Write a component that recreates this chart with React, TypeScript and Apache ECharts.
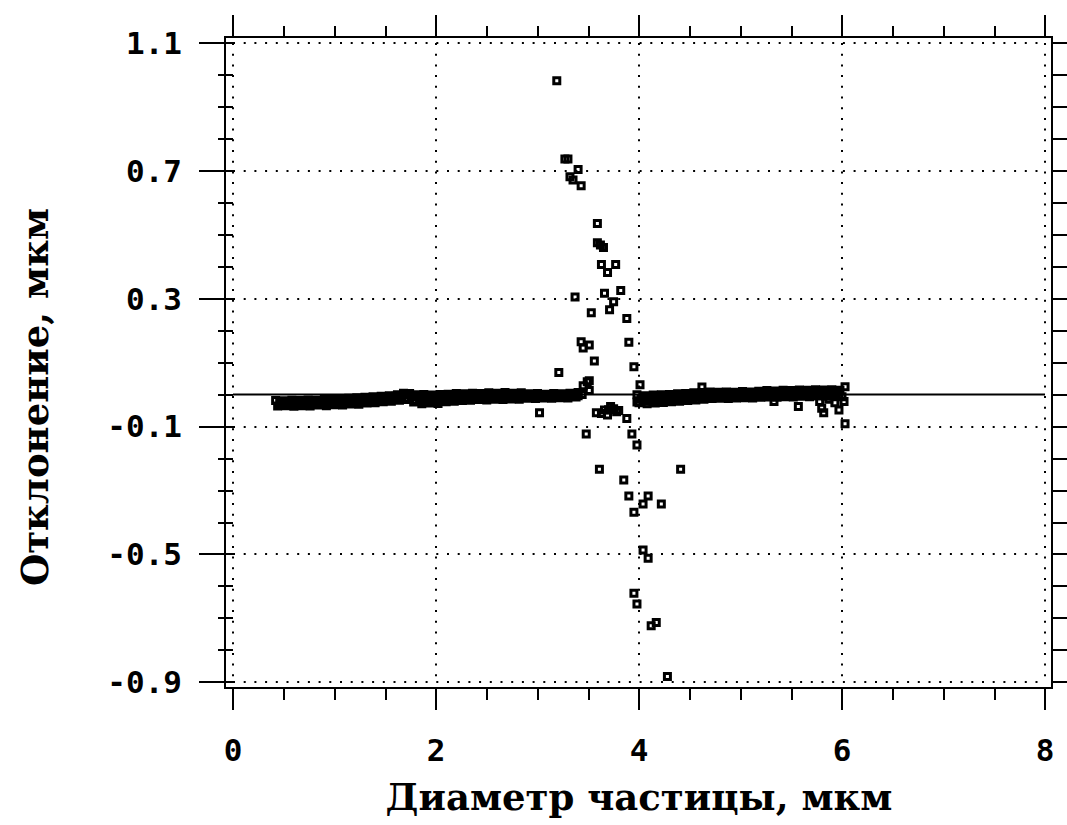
import React, { useEffect, useRef } from "react";
import * as echarts from "echarts";

// Axis ticks
const xMajor = [0, 2, 4, 6, 8];
const yMajor = [1.1, 0.7, 0.3, -0.1, -0.5, -0.9];

// Reference line y = 0
const zeroLine: number[][] = [
  [0, 0],
  [8, 0],
];

// Dense band of deviations, 0.4–3.5 µm
const bandLeftUpper: number[][] = [
  [0.42, -0.019], [0.5, -0.02], [0.58, -0.018], [0.66, -0.019], [0.74, -0.017], [0.82, -0.018],
  [0.9, -0.016], [0.98, -0.016], [1.06, -0.013], [1.14, -0.012], [1.22, -0.01], [1.3, -0.009],
  [1.38, -0.007], [1.46, -0.006], [1.54, -0.004], [1.62, -0.001], [1.68, 0.004], [1.74, 0.003],
  [1.8, -0.001], [1.88, 0.0], [1.96, -0.002], [2.04, 0.0], [2.12, 0.001], [2.2, 0.003],
  [2.28, 0.002], [2.36, 0.004], [2.44, 0.003], [2.52, 0.005], [2.6, 0.004], [2.68, 0.006],
  [2.76, 0.004], [2.84, 0.005], [2.92, 0.002], [3.0, 0.003], [3.08, 0.001], [3.16, 0.003],
  [3.24, 0.002], [3.32, 0.004], [3.4, 0.006],
];
const bandLeftUpperFill: number[][] = [
  [0.48, -0.024], [0.56, -0.023], [0.64, -0.024], [0.72, -0.022], [0.8, -0.023], [0.88, -0.021],
  [0.96, -0.021], [1.04, -0.019], [1.12, -0.017], [1.2, -0.016], [1.28, -0.014], [1.36, -0.013],
  [1.44, -0.011], [1.52, -0.009], [1.6, -0.006], [1.7, -0.002], [1.78, -0.005], [1.86, -0.007],
  [1.94, -0.008], [2.02, -0.007], [2.1, -0.005], [2.18, -0.004], [2.26, -0.003], [2.34, -0.002],
  [2.42, -0.001], [2.5, -0.001], [2.58, 0.0], [2.66, 0.0], [2.74, 0.0], [2.82, 0.0],
  [2.9, -0.001], [2.98, -0.001], [3.06, -0.002], [3.14, -0.001], [3.22, -0.001], [3.3, 0.0],
  [3.38, 0.002],
];
const bandLeftMiddle: number[][] = [
  [0.46, -0.028], [0.54, -0.027], [0.62, -0.029], [0.7, -0.027], [0.78, -0.028], [0.86, -0.025],
  [0.94, -0.026], [1.02, -0.024], [1.1, -0.023], [1.18, -0.021], [1.26, -0.02], [1.34, -0.018],
  [1.42, -0.016], [1.5, -0.014], [1.58, -0.012], [1.66, -0.007], [1.76, -0.008], [1.84, -0.014],
  [1.92, -0.015], [2.0, -0.014], [2.08, -0.012], [2.16, -0.01], [2.24, -0.008], [2.32, -0.007],
  [2.4, -0.006], [2.48, -0.007], [2.56, -0.005], [2.64, -0.006], [2.72, -0.004], [2.8, -0.005],
  [2.88, -0.005], [2.96, -0.004], [3.04, -0.005], [3.12, -0.004], [3.2, -0.004], [3.28, -0.003],
  [3.36, -0.001], [3.44, 0.0],
];
const bandLeftLowerFill: number[][] = [
  [0.5, -0.032], [0.58, -0.033], [0.66, -0.032], [0.74, -0.032], [0.82, -0.03], [0.9, -0.031],
  [0.98, -0.028], [1.06, -0.028], [1.14, -0.026], [1.22, -0.025], [1.3, -0.023], [1.38, -0.021],
  [1.46, -0.019], [1.54, -0.017], [1.62, -0.014], [1.7, -0.011], [1.8, -0.018], [1.88, -0.022],
  [1.96, -0.021], [2.04, -0.02], [2.12, -0.017], [2.2, -0.015], [2.28, -0.013], [2.36, -0.012],
  [2.44, -0.011], [2.52, -0.011], [2.6, -0.01], [2.68, -0.01], [2.76, -0.009], [2.84, -0.009],
  [2.92, -0.008], [3.0, -0.008], [3.08, -0.008], [3.16, -0.007], [3.24, -0.007], [3.32, -0.006],
  [3.4, -0.004],
];
const bandLeftLower: number[][] = [
  [0.44, -0.036], [0.52, -0.035], [0.6, -0.037], [0.68, -0.035], [0.76, -0.036], [0.84, -0.033],
  [0.92, -0.035], [1.0, -0.032], [1.08, -0.033], [1.16, -0.03], [1.24, -0.031], [1.32, -0.027],
  [1.4, -0.026], [1.48, -0.023], [1.56, -0.021], [1.64, -0.018], [1.72, -0.016], [1.78, -0.024],
  [1.86, -0.029], [1.94, -0.027], [2.02, -0.028], [2.1, -0.023], [2.18, -0.021], [2.26, -0.019],
  [2.34, -0.018], [2.42, -0.016], [2.5, -0.017], [2.58, -0.015], [2.66, -0.016], [2.74, -0.014],
  [2.82, -0.015], [2.9, -0.012], [2.98, -0.013], [3.06, -0.011], [3.14, -0.012], [3.22, -0.01],
  [3.3, -0.011], [3.38, -0.008],
];

// Dense band of deviations, 4.0–6.0 µm
const bandRightUpper: number[][] = [
  [3.98, -0.001], [4.06, -0.004], [4.14, -0.002], [4.22, -0.001], [4.3, 0.0], [4.38, 0.002],
  [4.46, 0.003], [4.54, 0.005], [4.62, 0.006], [4.7, 0.008], [4.78, 0.007], [4.86, 0.008],
  [4.94, 0.007], [5.02, 0.009], [5.1, 0.008], [5.18, 0.01], [5.26, 0.012], [5.34, 0.011],
  [5.42, 0.013], [5.5, 0.012], [5.58, 0.014], [5.66, 0.013], [5.74, 0.015], [5.82, 0.014],
  [5.9, 0.015], [5.98, 0.013],
];
const bandRightUpperFill: number[][] = [
  [4.04, -0.009], [4.12, -0.009], [4.2, -0.007], [4.28, -0.006], [4.36, -0.004], [4.44, -0.003],
  [4.52, -0.001], [4.6, 0.0], [4.68, 0.002], [4.76, 0.002], [4.84, 0.003], [4.92, 0.002],
  [5.0, 0.003], [5.08, 0.004], [5.16, 0.004], [5.24, 0.006], [5.32, 0.006], [5.4, 0.007],
  [5.48, 0.007], [5.56, 0.008], [5.64, 0.008], [5.72, 0.009], [5.8, 0.009], [5.88, 0.009],
  [5.96, 0.009],
];
const bandRightMiddle: number[][] = [
  [4.02, -0.014], [4.1, -0.016], [4.18, -0.013], [4.26, -0.012], [4.34, -0.01], [4.42, -0.009],
  [4.5, -0.007], [4.58, -0.006], [4.66, -0.004], [4.74, -0.003], [4.82, -0.002], [4.9, -0.003],
  [4.98, -0.002], [5.06, -0.001], [5.14, -0.002], [5.22, 0.001], [5.3, 0.002], [5.38, 0.001],
  [5.46, 0.003], [5.54, 0.002], [5.62, 0.004], [5.7, 0.003], [5.78, 0.005], [5.86, 0.004],
  [5.94, 0.004],
];
const bandRightLowerFill: number[][] = [
  [4.05, -0.021], [4.13, -0.021], [4.21, -0.019], [4.29, -0.017], [4.37, -0.015], [4.45, -0.013],
  [4.53, -0.011], [4.61, -0.009], [4.69, -0.008], [4.77, -0.007], [4.85, -0.007], [4.93, -0.006],
  [5.01, -0.005], [5.09, -0.006], [5.17, -0.004], [5.25, -0.003], [5.33, -0.003], [5.41, -0.002],
  [5.49, -0.002], [5.57, -0.001], [5.65, -0.001], [5.73, 0.0], [5.81, 0.0], [5.89, 0.0],
  [5.97, -0.001],
];
const bandRightLower: number[][] = [
  [4.0, -0.026], [4.08, -0.029], [4.16, -0.027], [4.24, -0.025], [4.32, -0.023], [4.4, -0.021],
  [4.48, -0.019], [4.56, -0.017], [4.64, -0.015], [4.72, -0.013], [4.8, -0.012], [4.88, -0.013],
  [4.96, -0.011], [5.04, -0.01], [5.12, -0.011], [5.2, -0.009], [5.28, -0.008], [5.36, -0.009],
  [5.44, -0.007], [5.52, -0.008], [5.6, -0.006], [5.68, -0.007], [5.76, -0.005], [5.84, -0.006],
  [5.92, -0.005], [6.0, -0.007],
];

// Scattered deviations around the 3–4.5 µm resonance and near 6 µm
const scattered: number[][] = [
  [3.19, 0.982], [3.27, 0.737], [3.3, 0.737], [3.4, 0.704], [3.32, 0.681], [3.35, 0.671],
  [3.43, 0.653], [3.59, 0.535], [3.59, 0.475], [3.62, 0.468], [3.65, 0.46], [3.63, 0.407],
  [3.77, 0.407], [3.69, 0.382], [3.37, 0.305], [3.66, 0.317], [3.82, 0.325], [3.75, 0.29],
  [3.53, 0.256], [3.71, 0.265], [3.88, 0.238], [3.43, 0.165], [3.45, 0.145], [3.51, 0.155],
  [3.9, 0.163], [3.56, 0.105], [3.21, 0.069], [3.95, 0.087], [3.45, 0.027], [3.49, 0.04],
  [3.51, 0.043], [3.51, 0.012], [4.01, 0.03], [3.98, -0.024], [4.62, 0.023], [3.02, -0.057],
  [3.58, -0.057], [3.69, -0.064], [3.66, -0.049], [3.72, -0.038], [3.78, -0.054], [3.75, -0.045],
  [3.8, -0.05], [3.63, -0.06], [3.7, -0.048], [3.88, -0.075], [3.48, -0.124], [3.93, -0.124],
  [3.98, -0.158], [3.61, -0.234], [4.41, -0.234], [3.85, -0.268], [3.9, -0.318], [4.09, -0.318],
  [4.04, -0.343], [4.22, -0.343], [3.95, -0.369], [4.04, -0.487], [4.09, -0.513], [3.95, -0.622],
  [3.98, -0.656], [4.12, -0.724], [4.17, -0.714], [4.28, -0.883], [5.33, -0.022], [5.57, -0.038],
  [5.78, -0.022], [5.8, -0.043], [5.82, -0.057], [5.87, -0.015], [5.93, -0.026], [5.97, -0.049],
  [6.02, -0.022], [6.03, 0.024], [6.03, -0.092], [4.14, -0.011],
];

const X_TITLE = "Диаметр частицы, мкм";
const Y_TITLE = "Отклонение, мкм";

const MONO = '"DejaVu Sans Mono", monospace';
const SERIF = '"DejaVu Serif", serif';
const INK = "#000";
const dotted = { color: INK, width: 2, type: [2, 8.7] as number[] };
const tickLine = { color: INK, width: 2 };

export default function App() {
  const ref = useRef<HTMLDivElement>(null);

  useEffect(() => {
    if (!ref.current) return;
    const chart = echarts.init(ref.current, null, { renderer: "svg" });

    const points = [
      ...bandLeftUpper,
      ...bandLeftUpperFill,
      ...bandLeftMiddle,
      ...bandLeftLowerFill,
      ...bandLeftLower,
      ...bandRightUpper,
      ...bandRightUpperFill,
      ...bandRightMiddle,
      ...bandRightLowerFill,
      ...bandRightLower,
      ...scattered,
    ];

    chart.setOption({
      animation: false,
      backgroundColor: "#fff",
      grid: { left: 233, right: 22, top: 43, bottom: 143, containLabel: false },
      xAxis: [
        {
          type: "value",
          position: "bottom",
          min: xMajor[0],
          max: xMajor[xMajor.length - 1],
          interval: 2,
          offset: 6,
          axisLine: { show: true, onZero: false, lineStyle: tickLine },
          axisTick: { show: true, inside: false, length: 22, lineStyle: tickLine },
          minorTick: { show: true, splitNumber: 4, length: 12, lineStyle: tickLine },
          axisLabel: {
            margin: 46,
            color: INK,
            fontFamily: MONO,
            fontWeight: "bold",
            fontSize: 31,
          },
          splitLine: { show: true, lineStyle: dotted },
          name: X_TITLE,
          nameLocation: "middle",
          nameGap: 90,
          nameTextStyle: { color: INK, fontFamily: SERIF, fontWeight: "bold", fontSize: 37 },
        },
        {
          type: "value",
          position: "top",
          min: xMajor[0],
          max: xMajor[xMajor.length - 1],
          interval: 2,
          offset: 6,
          axisLine: { show: true, onZero: false, lineStyle: tickLine },
          axisTick: { show: true, inside: false, length: 22, lineStyle: tickLine },
          minorTick: { show: true, splitNumber: 4, length: 11, lineStyle: tickLine },
          axisLabel: { show: false },
          splitLine: { show: false },
        },
      ],
      yAxis: [
        {
          type: "value",
          position: "left",
          min: -0.9,
          max: 1.1,
          interval: 0.1,
          offset: 8,
          axisLine: { show: true, onZero: false, lineStyle: tickLine },
          axisTick: { show: true, inside: false, length: 26, lineStyle: tickLine, customValues: yMajor },
          axisLabel: {
            customValues: yMajor,
            margin: 43,
            color: INK,
            fontFamily: MONO,
            fontWeight: "bold",
            fontSize: 31,
          },
          splitLine: { show: false },
        },
        {
          type: "value",
          position: "left",
          min: -0.9,
          max: 1.1,
          interval: 0.1,
          offset: 8,
          axisLine: { show: false },
          axisTick: { show: true, inside: false, length: 15, lineStyle: tickLine },
          axisLabel: { show: false },
          splitLine: { show: false },
        },
        {
          type: "value",
          position: "right",
          min: -0.9,
          max: 1.1,
          interval: 0.1,
          offset: 7,
          axisLine: { show: true, onZero: false, lineStyle: tickLine },
          axisTick: { show: true, inside: false, length: 16, lineStyle: tickLine },
          axisLabel: { show: false },
          splitLine: { show: false },
        },
      ],
      graphic: [
        {
          type: "rect",
          shape: { x: 225, y: 37, width: 827, height: 651 },
          style: { fill: "none", stroke: INK, lineWidth: 2 },
          z: 100,
          silent: true,
        },
        {
          type: "text",
          x: 35,
          y: 397,
          rotation: Math.PI / 2,
          style: {
            text: Y_TITLE,
            fill: INK,
            font: `bold 37px ${SERIF}`,
            align: "center",
            verticalAlign: "middle",
          },
          silent: true,
        },
      ],
      series: [
        {
          type: "line",
          xAxisIndex: 0,
          yAxisIndex: 0,
          data: zeroLine,
          symbol: "none",
          lineStyle: { color: INK, width: 2 },
          z: 1,
          silent: true,
          markLine: {
            silent: true,
            symbol: ["none", "none"],
            label: { show: false },
            lineStyle: dotted,
            data: yMajor.map((v) => ({ yAxis: v })),
          },
        },
        {
          // hollow squares: outlines only, so overlapping markers merge into a solid band
          type: "scatter",
          xAxisIndex: 0,
          yAxisIndex: 0,
          data: points,
          symbol: "rect",
          symbolSize: 6,
          itemStyle: { color: "rgba(0,0,0,0)", borderColor: INK, borderWidth: 3, opacity: 1 },
          z: 3,
          silent: true,
        },
      ],
    });

    return () => chart.dispose();
  }, []);

  return (
    <div
      ref={ref}
      style={{ position: "fixed", left: 0, top: 0, width: 1067, height: 825, background: "#fff" }}
    />
  );
}
